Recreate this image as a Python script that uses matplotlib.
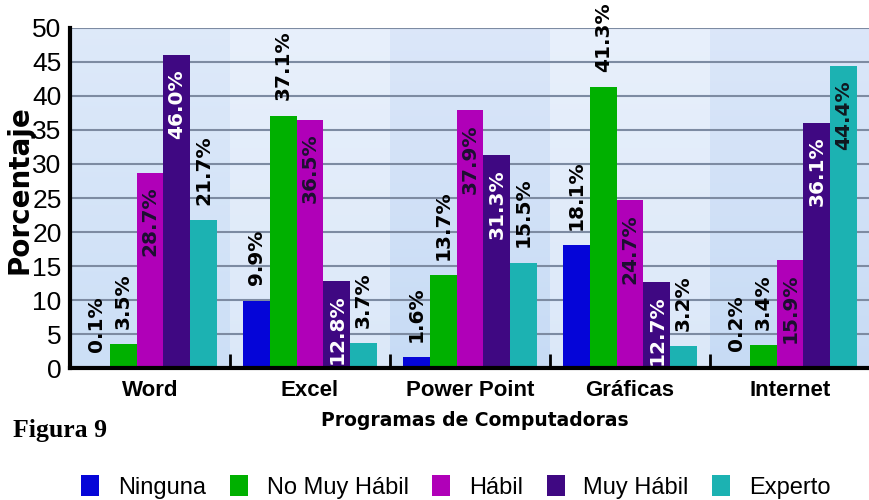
import matplotlib
matplotlib.use('Agg')
import matplotlib.pyplot as plt
import numpy as np

programas = ['Word', 'Excel', 'Power Point', 'Gráficas', 'Internet']
niveles = ['Ninguna', 'No Muy Hábil', 'Hábil', 'Muy Hábil', 'Experto']

ninguna = [0.1, 9.9, 1.6, 18.1, 0.2]
no_muy_habil = [3.5, 37.1, 13.7, 41.3, 3.4]
habil = [28.7, 36.5, 37.9, 24.7, 15.9]
muy_habil = [46.0, 12.8, 31.3, 12.7, 36.1]
experto = [21.7, 3.7, 15.5, 3.2, 44.4]

series = [ninguna, no_muy_habil, habil, muy_habil, experto]
colores = ['#0505d8', '#00b000', '#b000b8', '#3f0882', '#1cb2b2']

# labels written inside the bar (others sit above it)
dentro = ['Hábil', 'Muy Hábil']
dentro_extra = [('Internet', 'Experto')]
color_dentro = {'Hábil': '#1c1030', 'Muy Hábil': 'white', 'Experto': '#101820'}

narrow = ['Liberation Sans Narrow', 'Liberation Sans', 'DejaVu Sans']
sans = ['Liberation Sans', 'DejaVu Sans']

fig = plt.figure(figsize=(8.7, 5), dpi=100)
ax = fig.add_axes([70 / 870, 132 / 500, 800 / 870, 340 / 500])

# banded gradient background, one band per program
for i in range(len(programas)):
    if i % 2 == 1:
        top, bot = np.array([0.91, 0.94, 0.985]), np.array([0.86, 0.91, 0.975])
    elif i == 0:
        top, bot = np.array([0.87, 0.915, 0.98]), np.array([0.80, 0.875, 0.965])
    else:
        top, bot = np.array([0.86, 0.905, 0.978]), np.array([0.78, 0.86, 0.96])
    t = np.linspace(0, 1, 100)[:, None]
    grad = top * (1 - t) + bot * t
    ax.imshow(grad[:, None, :], extent=(i - 0.5, i + 0.5, 0, 50),
              aspect='auto', zorder=0, interpolation='bilinear')

x = np.arange(len(programas))
w = 0.1675
for j, (nombre, vals, col) in enumerate(zip(niveles, series, colores)):
    xs = x + (j - 2) * w
    ax.bar(xs, vals, w, color=col, zorder=2, label=nombre)
    for k, (xx, v) in enumerate(zip(xs, vals)):
        txt = f'{v:.1f}%'
        if nombre in dentro or (programas[k], nombre) in dentro_extra:
            ax.annotate(txt, (xx, v), xytext=(0, -10), textcoords='offset points',
                        rotation=90, ha='center', va='top', fontsize=14.5,
                        fontweight='bold', color=color_dentro[nombre], zorder=3)
        else:
            ax.annotate(txt, (xx, v), xytext=(0, 11), textcoords='offset points',
                        rotation=90, ha='center', va='bottom', fontsize=14.5,
                        fontweight='bold', color='black', zorder=3)

ax.set_xlim(-0.5, 4.5)
ax.set_ylim(0, 50)
ax.set_yticks(range(0, 51, 5))
ax.yaxis.grid(True, color='#7d8ba2', lw=1.5, zorder=1)
ax.set_axisbelow(True)
ax.set_xticks(x)
ax.set_xticklabels(programas, fontsize=16, fontweight='bold', family=sans)
ax.set_xticks([0.5, 1.5, 2.5, 3.5], minor=True)
ax.tick_params(axis='x', which='major', length=0, pad=9)
ax.tick_params(axis='x', which='minor', direction='in', length=10, width=2, color='black')
ax.tick_params(axis='y', length=0, pad=6)
for lab in ax.get_yticklabels():
    lab.set_fontsize(19)
    lab.set_family(narrow)
for s in ['top', 'right']:
    ax.spines[s].set_visible(False)
for s in ['left', 'bottom']:
    ax.spines[s].set_linewidth(3)
    ax.spines[s].set_color('black')
    ax.spines[s].set_zorder(4)

fig.text(20 / 870, 1 - 190 / 500, 'Porcentaje', rotation=90, ha='center', va='center',
         fontsize=20, fontweight='bold')
fig.text(475 / 870, 1 - 421 / 500, 'Programas de Computadoras', ha='center', va='center',
         fontsize=13.5, fontweight='bold')
fig.text(13 / 870, 1 - 437 / 500, 'Figura 9', ha='left', va='baseline',
         fontsize=18.5, fontweight='bold', family=['Liberation Serif', 'DejaVu Serif'])

fig.legend(loc='center', bbox_to_anchor=(456 / 870, 1 - 487 / 500), ncol=5,
           frameon=False, prop={'family': sans, 'size': 17},
           handlelength=0.76, handleheight=0.95, handletextpad=0.8,
           columnspacing=1.0, borderaxespad=0)

fig.savefig('out.png', dpi=100)
